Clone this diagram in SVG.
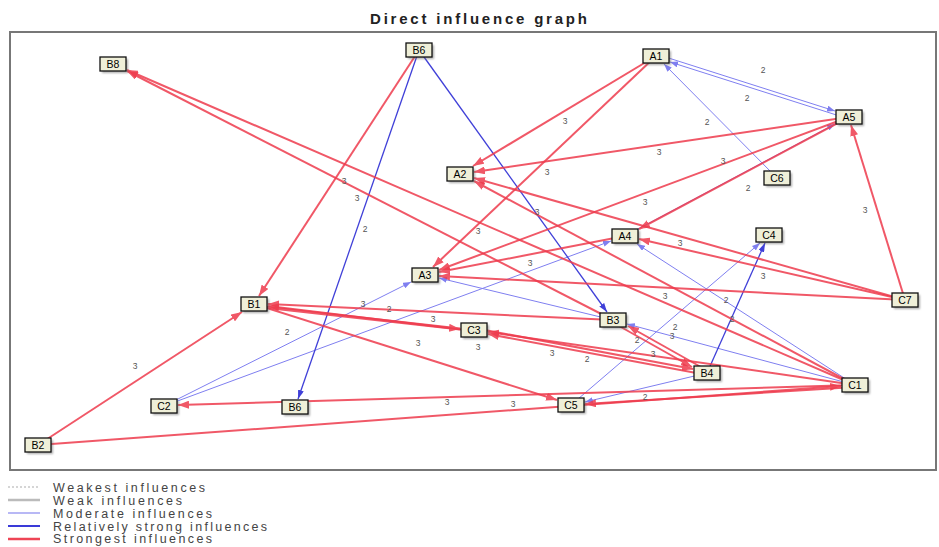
<svg xmlns="http://www.w3.org/2000/svg" width="939" height="547" viewBox="0 0 939 547">
<style>
.title{font-family:"Liberation Sans",Arial,sans-serif;font-weight:bold;font-size:15px;fill:#222}
.leg{font-family:"Liberation Sans",Arial,sans-serif;font-size:12.5px;fill:#444}
.nl{font-family:"Liberation Sans",Arial,sans-serif;font-size:10.5px;fill:#000;text-anchor:middle}
.el{font-family:"Liberation Sans",Arial,sans-serif;font-size:8.5px;fill:#555;text-anchor:middle}
.box{fill:#efefd8;stroke:#111;stroke-width:1.3}
.sh{fill:#666;opacity:.55}
.r{stroke:#ee3b4d;stroke-width:2;fill:none;opacity:.85;marker-end:url(#ar)}
.m{stroke:#7f7ff0;stroke-width:1;fill:none;marker-end:url(#ab)}
.s{stroke:#4040d8;stroke-width:1.3;fill:none;marker-end:url(#as)}
</style>
<defs>
<marker id="ar" markerUnits="userSpaceOnUse" markerWidth="11" markerHeight="8" refX="11" refY="4" orient="auto"><path d="M0,0 L11,4 L0,8 z" fill="#ee3b4d"/></marker>
<marker id="ab" markerUnits="userSpaceOnUse" markerWidth="8" markerHeight="6" refX="8" refY="3" orient="auto"><path d="M0,0 L8,3 L0,6 z" fill="#7f7ff0"/></marker>
<marker id="as" markerUnits="userSpaceOnUse" markerWidth="9" markerHeight="6" refX="9" refY="3" orient="auto"><path d="M0,0 L9,3 L0,6 z" fill="#4040d8"/></marker>
<filter id="blur" x="-30%" y="-30%" width="160%" height="160%"><feGaussianBlur stdDeviation="1"/></filter>
</defs>
<rect width="939" height="547" fill="#fff"/>
<text class="title" x="370" y="24" textLength="217">Direct influence graph</text>
<rect x="10" y="32" width="926" height="438" fill="none" stroke="#777" stroke-width="2"/>

<g id="connectors">
<!-- moderate (light blue) -->
<line class="m" x1="656" y1="54" x2="835" y2="111"/>
<line class="m" x1="849" y1="119" x2="670" y2="62"/>
<line class="m" x1="777" y1="178" x2="664" y2="64"/>
<line class="m" x1="625" y1="236" x2="835" y2="124"/>
<line class="m" x1="164" y1="406" x2="411" y2="282"/>
<line class="m" x1="164" y1="406" x2="611" y2="241"/>
<line class="m" x1="613" y1="320" x2="439" y2="278"/>
<line class="m" x1="855" y1="385" x2="637" y2="244"/>
<line class="m" x1="571" y1="405" x2="760" y2="243"/>
<line class="m" x1="855" y1="385" x2="627" y2="324"/>
<line class="m" x1="707" y1="373" x2="585" y2="402"/>
<!-- relatively strong (blue) -->
<line class="s" x1="419" y1="50" x2="607" y2="312"/>
<line class="s" x1="419" y1="50" x2="298" y2="399"/>
<line class="s" x1="707" y1="373" x2="765" y2="243"/>
<!-- strongest (red) -->
<line class="r" x1="419" y1="50" x2="259" y2="296"/>
<line class="r" x1="613" y1="320" x2="127" y2="71"/>
<line class="r" x1="855" y1="385" x2="127" y2="70"/>
<line class="r" x1="656" y1="56" x2="473" y2="166"/>
<line class="r" x1="656" y1="56" x2="433" y2="267"/>
<line class="r" x1="849" y1="117" x2="474" y2="172"/>
<line class="r" x1="849" y1="117" x2="439" y2="270"/>
<line class="r" x1="849" y1="117" x2="639" y2="229"/>
<line class="r" x1="625" y1="236" x2="439" y2="272"/>
<line class="r" x1="905" y1="300" x2="851" y2="125"/>
<line class="r" x1="905" y1="300" x2="474" y2="178"/>
<line class="r" x1="905" y1="300" x2="639" y2="239"/>
<line class="r" x1="905" y1="300" x2="439" y2="276"/>
<line class="r" x1="855" y1="385" x2="474" y2="181"/>
<line class="r" x1="613" y1="320" x2="268" y2="304"/>
<line class="r" x1="474" y1="331" x2="268" y2="306"/>
<line class="r" x1="254" y1="306" x2="460" y2="329" style="stroke-width:3"/>
<line class="r" x1="254" y1="304" x2="557" y2="400"/>
<line class="r" x1="38" y1="445" x2="242" y2="312"/>
<line class="r" x1="38" y1="445" x2="841" y2="386"/>
<line class="r" x1="855" y1="385" x2="178" y2="405"/>
<line class="r" x1="855" y1="387" x2="585" y2="404"/>
<line class="r" x1="708" y1="371" x2="628" y2="326"/>
<line class="r" x1="612" y1="322" x2="692" y2="367"/>
<line class="r" x1="474" y1="328" x2="693" y2="369"/>
<line class="r" x1="707" y1="375" x2="488" y2="334"/>
<line class="r" x1="855" y1="385" x2="488" y2="332"/>
</g>

<g id="edge-labels">
<text class="el" x="763" y="73">2</text>
<text class="el" x="747" y="101">2</text>
<text class="el" x="565" y="124">3</text>
<text class="el" x="707" y="125">2</text>
<text class="el" x="659" y="155">3</text>
<text class="el" x="723" y="164">3</text>
<text class="el" x="547" y="175">3</text>
<text class="el" x="748" y="191">2</text>
<text class="el" x="344" y="184">3</text>
<text class="el" x="357" y="201">3</text>
<text class="el" x="365" y="232">2</text>
<text class="el" x="645" y="205">3</text>
<text class="el" x="537" y="215">3</text>
<text class="el" x="478" y="234">3</text>
<text class="el" x="530" y="266">3</text>
<text class="el" x="680" y="246">3</text>
<text class="el" x="763" y="279">3</text>
<text class="el" x="665" y="299">3</text>
<text class="el" x="726" y="303">2</text>
<text class="el" x="732" y="322">2</text>
<text class="el" x="675" y="330">2</text>
<text class="el" x="672" y="339">3</text>
<text class="el" x="637" y="343">2</text>
<text class="el" x="653" y="357">3</text>
<text class="el" x="552" y="356">3</text>
<text class="el" x="587" y="362">2</text>
<text class="el" x="478" y="350">3</text>
<text class="el" x="865" y="213">3</text>
<text class="el" x="363" y="307">3</text>
<text class="el" x="389" y="312">2</text>
<text class="el" x="433" y="322">3</text>
<text class="el" x="418" y="346">3</text>
<text class="el" x="287" y="335">2</text>
<text class="el" x="447" y="405">3</text>
<text class="el" x="135" y="369">3</text>
<text class="el" x="513" y="407">3</text>
<text class="el" x="645" y="400">2</text>
</g>

<g id="B8" transform="translate(113,64)"><rect class="sh" x="-11" y="-5" width="26" height="14" filter="url(#blur)"/><rect class="box" x="-13" y="-7" width="26" height="14"/><text class="nl" y="3.8">B8</text></g>
<g id="B6-top" transform="translate(419,50)"><rect class="sh" x="-11" y="-5" width="26" height="14" filter="url(#blur)"/><rect class="box" x="-13" y="-7" width="26" height="14"/><text class="nl" y="3.8">B6</text></g>
<g id="A1" transform="translate(656,56)"><rect class="sh" x="-11" y="-5" width="26" height="14" filter="url(#blur)"/><rect class="box" x="-13" y="-7" width="26" height="14"/><text class="nl" y="3.8">A1</text></g>
<g id="A5" transform="translate(849,117)"><rect class="sh" x="-11" y="-5" width="26" height="14" filter="url(#blur)"/><rect class="box" x="-13" y="-7" width="26" height="14"/><text class="nl" y="3.8">A5</text></g>
<g id="A2" transform="translate(460,174)"><rect class="sh" x="-11" y="-5" width="26" height="14" filter="url(#blur)"/><rect class="box" x="-13" y="-7" width="26" height="14"/><text class="nl" y="3.8">A2</text></g>
<g id="C6" transform="translate(777,178)"><rect class="sh" x="-11" y="-5" width="26" height="14" filter="url(#blur)"/><rect class="box" x="-13" y="-7" width="26" height="14"/><text class="nl" y="3.8">C6</text></g>
<g id="A4" transform="translate(625,236)"><rect class="sh" x="-11" y="-5" width="26" height="14" filter="url(#blur)"/><rect class="box" x="-13" y="-7" width="26" height="14"/><text class="nl" y="3.8">A4</text></g>
<g id="C4" transform="translate(769,235)"><rect class="sh" x="-11" y="-5" width="26" height="14" filter="url(#blur)"/><rect class="box" x="-13" y="-7" width="26" height="14"/><text class="nl" y="3.8">C4</text></g>
<g id="A3" transform="translate(425,275)"><rect class="sh" x="-11" y="-5" width="26" height="14" filter="url(#blur)"/><rect class="box" x="-13" y="-7" width="26" height="14"/><text class="nl" y="3.8">A3</text></g>
<g id="B1" transform="translate(254,304)"><rect class="sh" x="-11" y="-5" width="26" height="14" filter="url(#blur)"/><rect class="box" x="-13" y="-7" width="26" height="14"/><text class="nl" y="3.8">B1</text></g>
<g id="C7" transform="translate(905,300)"><rect class="sh" x="-11" y="-5" width="26" height="14" filter="url(#blur)"/><rect class="box" x="-13" y="-7" width="26" height="14"/><text class="nl" y="3.8">C7</text></g>
<g id="B3" transform="translate(613,320)"><rect class="sh" x="-11" y="-5" width="26" height="14" filter="url(#blur)"/><rect class="box" x="-13" y="-7" width="26" height="14"/><text class="nl" y="3.8">B3</text></g>
<g id="C3" transform="translate(474,330)"><rect class="sh" x="-11" y="-5" width="26" height="14" filter="url(#blur)"/><rect class="box" x="-13" y="-7" width="26" height="14"/><text class="nl" y="3.8">C3</text></g>
<g id="B4" transform="translate(707,373)"><rect class="sh" x="-11" y="-5" width="26" height="14" filter="url(#blur)"/><rect class="box" x="-13" y="-7" width="26" height="14"/><text class="nl" y="3.8">B4</text></g>
<g id="C1" transform="translate(855,385)"><rect class="sh" x="-11" y="-5" width="26" height="14" filter="url(#blur)"/><rect class="box" x="-13" y="-7" width="26" height="14"/><text class="nl" y="3.8">C1</text></g>
<g id="C5" transform="translate(571,405)"><rect class="sh" x="-11" y="-5" width="26" height="14" filter="url(#blur)"/><rect class="box" x="-13" y="-7" width="26" height="14"/><text class="nl" y="3.8">C5</text></g>
<g id="C2" transform="translate(164,406)"><rect class="sh" x="-11" y="-5" width="26" height="14" filter="url(#blur)"/><rect class="box" x="-13" y="-7" width="26" height="14"/><text class="nl" y="3.8">C2</text></g>
<g id="B6-bottom" transform="translate(295,407)"><rect class="sh" x="-11" y="-5" width="26" height="14" filter="url(#blur)"/><rect class="box" x="-13" y="-7" width="26" height="14"/><text class="nl" y="3.8">B6</text></g>
<g id="B2" transform="translate(38,445)"><rect class="sh" x="-11" y="-5" width="26" height="14" filter="url(#blur)"/><rect class="box" x="-13" y="-7" width="26" height="14"/><text class="nl" y="3.8">B2</text></g>

<g id="legend">
<line x1="8" y1="487" x2="40" y2="487" stroke="#c8c8c8" stroke-width="1.5" stroke-dasharray="2,2"/>
<line x1="8" y1="500" x2="40" y2="500" stroke="#bbbbbb" stroke-width="2.5"/>
<line x1="8" y1="513" x2="40" y2="513" stroke="#8888ee" stroke-width="1.2"/>
<line x1="8" y1="526" x2="40" y2="526" stroke="#3a3ad8" stroke-width="2"/>
<line x1="8" y1="539" x2="40" y2="539" stroke="#ee4455" stroke-width="2.5"/>
<text class="leg" x="53" y="491.5" textLength="152">Weakest influences</text>
<text class="leg" x="53" y="504.5" textLength="129">Weak influences</text>
<text class="leg" x="53" y="517.5" textLength="159">Moderate influences</text>
<text class="leg" x="53" y="530.5" textLength="214">Relatively strong influences</text>
<text class="leg" x="53" y="543" textLength="159">Strongest influences</text>
</g>
</svg>
